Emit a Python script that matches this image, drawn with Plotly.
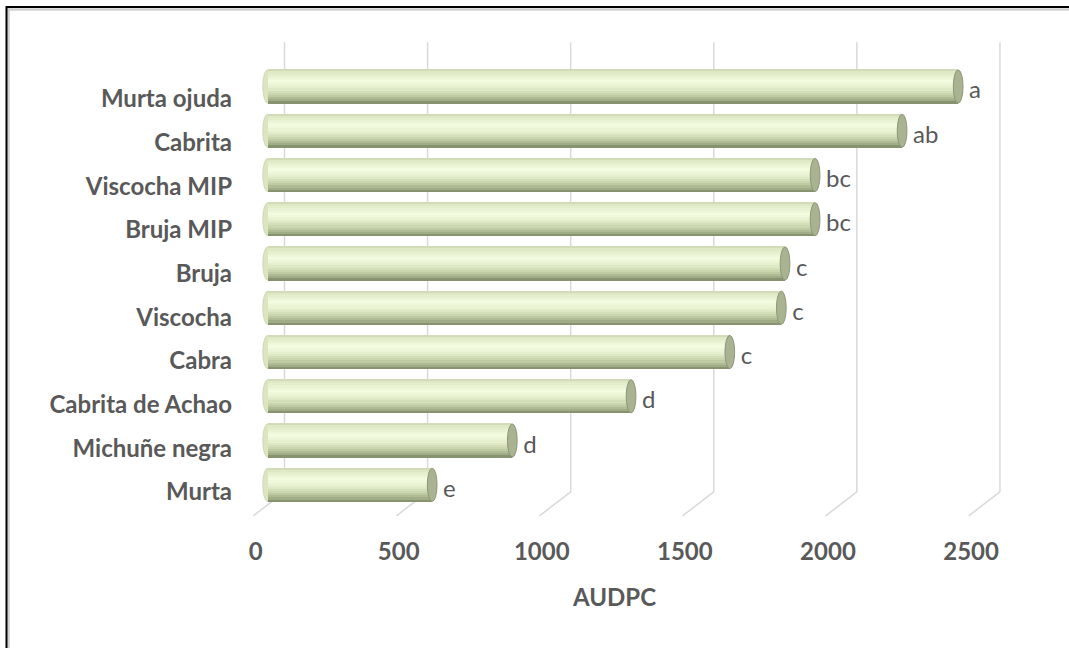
import plotly.graph_objects as go

# ---------------- data ----------------
categories = ["Murta", "Michuñe negra", "Cabrita de Achao", "Cabra", "Viscocha",
              "Bruja", "Bruja MIP", "Viscocha MIP", "Cabrita", "Murta ojuda"]
audpc = [575, 855, 1270, 1615, 1795, 1808, 1913, 1913, 2217, 2413]
letters = ["e", "d", "d", "c", "c", "c", "bc", "bc", "ab", "a"]
x_ticks = [0, 500, 1000, 1500, 2000, 2500]
x_title = "AUDPC"

# ---------------- style ----------------
W, H = 1069, 648
ML, MR, MT, MB = 239, 43, 40, 130
XR = [-100, 2650]
YR = [-0.75, 10.05]
BAR_W = 0.77
TXT = "#595959"
GRID = "#d9d9d9"
FONT = "Lato"

stops = [(0.00, "#c4ceac"), (0.06, "#dde7c3"), (0.35, "#f3fce0"), (0.55, "#e5efcc"),
         (0.75, "#c5d1a8"), (0.90, "#a1ae87"), (1.00, "#7a8666")]


def hex2rgb(h):
    h = h.lstrip("#")
    return tuple(int(h[i:i + 2], 16) for i in (0, 2, 4))


def color_at(f):
    for (f0, c0), (f1, c1) in zip(stops[:-1], stops[1:]):
        if f0 <= f <= f1:
            t = (f - f0) / (f1 - f0) if f1 > f0 else 0
            a, b = hex2rgb(c0), hex2rgb(c1)
            return "rgb(%d,%d,%d)" % tuple(round(a[k] + (b[k] - a[k]) * t) for k in range(3))
    return stops[-1][1]


fig = go.Figure()

# layered bars to imitate a shaded cylinder
NB = 16
for k in range(NB):
    t0, t1 = k / NB, (k + 1) / NB
    fig.add_trace(go.Bar(
        x=audpc, y=categories, orientation="h",
        width=(t1 - t0) * BAR_W + 0.004, offset=BAR_W / 2 - t1 * BAR_W,
        marker=dict(color=color_at((t0 + t1) / 2), line=dict(width=0)),
        showlegend=False, hoverinfo="skip"))

# category labels (slightly shifted axis)
fig.add_trace(go.Scatter(x=audpc, y=categories, yaxis="y2", mode="markers",
                         marker=dict(opacity=0), showlegend=False, hoverinfo="skip"))
# tick labels axis (front plane)
fig.add_trace(go.Scatter(x=audpc, y=categories, xaxis="x2", mode="markers",
                         marker=dict(opacity=0), showlegend=False, hoverinfo="skip"))
# significance letters
fig.add_trace(go.Scatter(x=[v + 38 for v in audpc], y=categories, yaxis="y3", mode="text",
                         text=letters, textposition="middle right",
                         textfont=dict(family=FONT, size=24, color=TXT),
                         showlegend=False, hoverinfo="skip"))

shapes = []
# back-wall gridlines and floor diagonals
BACK, FRONT = 59, -50
for t in x_ticks:
    shapes.append(dict(type="line", xref="x", yref="y", x0=t + BACK, x1=t + BACK, y0=-0.16, y1=10.0,
                       line=dict(color=GRID, width=1.5), layer="below"))
    shapes.append(dict(type="line", xref="x", yref="y", x0=t + BACK, x1=t + FRONT, y0=-0.16, y1=-0.70,
                       line=dict(color=GRID, width=1.5), layer="below"))
# rounded left ends
for i, v in enumerate(audpc):
    shapes.append(dict(type="circle", xref="x", yref="y", x0=-17, x1=17,
                       y0=i - BAR_W / 2 + 0.01, y1=i + BAR_W / 2 - 0.01,
                       fillcolor="#dbe5c1", line=dict(color="#c9d3b0", width=0.8), layer="below"))
# end caps
for i, v in enumerate(audpc):
    shapes.append(dict(type="circle", xref="x", yref="y", x0=v - 17, x1=v + 17,
                       y0=i - BAR_W / 2 + 0.01, y1=i + BAR_W / 2 - 0.01,
                       fillcolor="#a9b291", line=dict(color="#8d9778", width=1), layer="above"))

# outer frame (top and left edges)
pw, ph = W - ML - MR, H - MT - MB
def px(x): return (x - ML) / pw
def py(y): return (H - MB - y) / ph
shapes.append(dict(type="line", xref="paper", yref="paper", x0=px(6), x1=px(W + 5), y0=py(9.5), y1=py(9.5),
                   line=dict(color="#d0d0d0", width=2.5)))
shapes.append(dict(type="line", xref="paper", yref="paper", x0=px(8.5), x1=px(8.5), y0=py(7), y1=py(H + 5),
                   line=dict(color="#d0d0d0", width=2.5)))
shapes.append(dict(type="line", xref="paper", yref="paper", x0=px(6), x1=px(W + 5), y0=py(7), y1=py(7),
                   line=dict(color="black", width=2)))
shapes.append(dict(type="line", xref="paper", yref="paper", x0=px(6.5), x1=px(6.5), y0=py(6), y1=py(H + 5),
                   line=dict(color="black", width=2)))

fig.update_layout(
    width=W, height=H,
    margin=dict(l=ML, r=MR, t=MT, b=MB, autoexpand=False),
    paper_bgcolor="white", plot_bgcolor="white",
    barmode="overlay", bargap=0,
    showlegend=False,
    shapes=shapes,
    annotations=[dict(text=x_title, xref="paper", yref="paper", x=px(614), y=py(596),
                      showarrow=False, xanchor="center", yanchor="middle",
                      font=dict(family=FONT, size=24, color=TXT, weight="bold"))],
    xaxis=dict(range=XR, showgrid=False, zeroline=False, showticklabels=False, ticks="",
               showline=False, fixedrange=True),
    xaxis2=dict(range=[XR[0] + 42, XR[1] + 42], overlaying="x", side="bottom", anchor="y",
                tickvals=x_ticks, ticktext=[str(t) for t in x_ticks],
                showgrid=False, zeroline=False, showline=False, ticks="",
                ticklabelstandoff=17,
                tickfont=dict(family=FONT, size=24, color=TXT, weight="bold")),
    yaxis=dict(type="category", categoryorder="array", categoryarray=categories,
               range=YR, showgrid=False, zeroline=False, showticklabels=False, ticks="",
               showline=False),
    yaxis2=dict(type="category", categoryorder="array", categoryarray=categories,
                range=[-0.595, 10.35], overlaying="y", side="left", anchor="x",
                showgrid=False, zeroline=False, showline=False, ticks="",
                ticklabelstandoff=6,
                tickfont=dict(family=FONT, size=24, color=TXT, weight="bold")),
    yaxis3=dict(type="category", categoryorder="array", categoryarray=categories,
                range=[YR[0] + 0.136, YR[1] + 0.136], overlaying="y", anchor="x",
                visible=False),
)

fig.write_html("out.html")
